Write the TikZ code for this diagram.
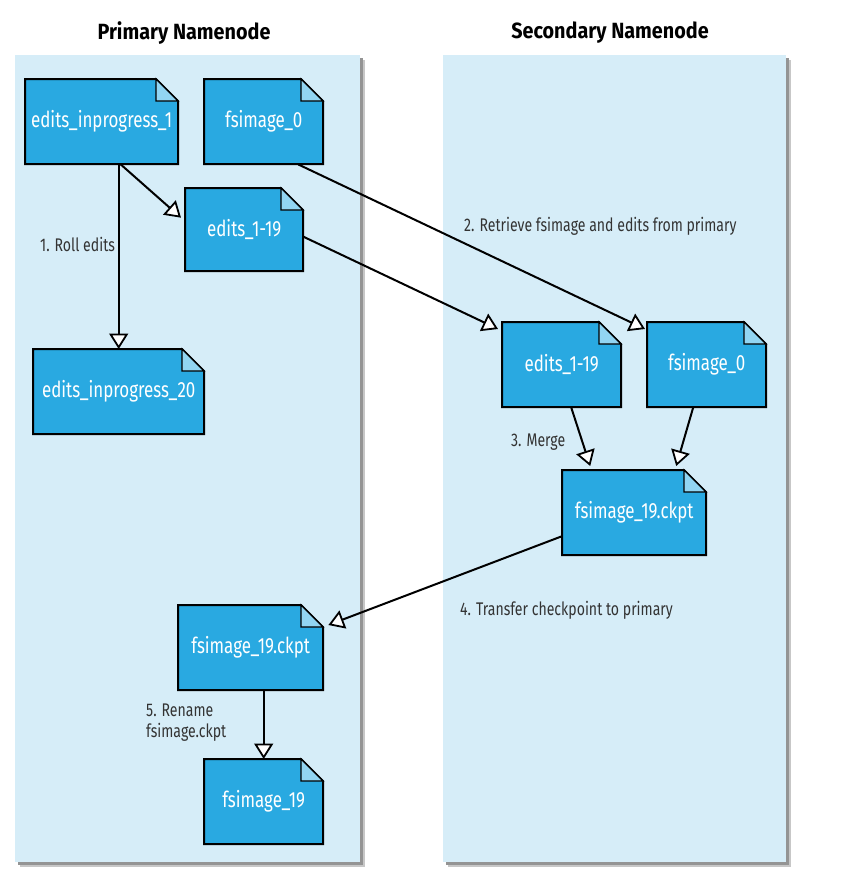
\documentclass[tikz,border=0pt]{standalone}
\usepackage{fontspec}
\setmainfont{Fira Sans}[FakeStretch=0.77]
\newfontfamily\titlefont{Fira Sans}[FakeStretch=0.9]
\usetikzlibrary{arrows.meta,calc}
\definecolor{docblue}{HTML}{29A9E1}
\definecolor{foldblue}{HTML}{92D5F2}
\definecolor{panelblue}{HTML}{D6EDF8}
\definecolor{labelgray}{HTML}{333333}
\tikzset{
  docline/.style={fill=docblue, draw=black, line width=2pt, line join=miter},
  foldline/.style={fill=foldblue, draw=black, line width=1.2pt},
  doctext/.style={text=white, font=\fontsize{22}{26}\selectfont, inner sep=0pt},
  lbl/.style={text=labelgray, font=\fontsize{18.3}{21}\selectfont, inner sep=0pt},
  flow/.style={draw=black, line width=2pt, -{Triangle[length=15.5pt, width=19pt, fill=white, line width=1.8pt]}},
  panelbox/.style={fill=panelblue},
  shadowsoft/.style={fill=black!22},
  shadowbox/.style={fill=black!42},
  titletext/.style={font=\titlefont\bfseries\fontsize{22}{26}\selectfont, text=black, inner sep=0pt}
}
\newcommand\mydoc[6]{%
  \filldraw[docline] (#2,#3) -- ++({#4-22},0) -- ++(22,22) -- ++(0,{#5-22}) -- ++(-#4,0) -- cycle;
  \filldraw[foldline] ({#2+#4-22},#3) -- ++(0,22) -- ++(22,0) -- cycle;
  \node[doctext, minimum width=#4pt, minimum height=#5pt, anchor=north west] (#1) at (#2,#3) {#6};
}
\begin{document}
\begin{tikzpicture}[x=1pt, y=-1pt]
\fill[white] (0,0) rectangle (861,886);
\useasboundingbox (0,0) rectangle (861,886);
% panels
\fill[shadowsoft] (20,60) rectangle (365,867);
\fill[shadowbox] (18,58) rectangle (363,865);
\fill[panelbox] (15,55) rectangle (360,862);
\fill[shadowsoft] (448,60) rectangle (791,867);
\fill[shadowbox] (446,58) rectangle (789,865);
\fill[panelbox] (443,55) rectangle (786,862);
\node[titletext] (t1) at (184,33) {Primary Namenode};
\node[titletext] (t2) at (610,33) {Secondary Namenode};
% documents
\mydoc{e1}{25}{79}{153}{85}{edits\_inprogress\_1}
\mydoc{f0}{204}{79}{119}{85}{fsimage\_0}
\mydoc{e119}{185}{188}{118}{83}{edits\_1-19}
\mydoc{e20}{33}{349}{171}{85}{edits\_inprogress\_20}
\mydoc{ckp}{178}{605}{145}{85}{fsimage\_19.ckpt}
\mydoc{f19}{204}{759}{119}{85}{fsimage\_19}
\mydoc{e119s}{502}{322}{119}{85}{edits\_1-19}
\mydoc{f0s}{647}{322}{119}{85}{fsimage\_0}
\mydoc{cks}{562}{470}{144}{85}{fsimage\_19.ckpt}
% connectors
\draw[flow] (e1.south -| e20.north) -- (e20.north);
\draw[flow] ($(e1.south -| e20.north)+(2,0)$) -- ($(e119.west)+(-4,-12)$);
\draw[flow] ($(f0.south)+(34.5,0)$) -- ($(f0s.north west)+(-2,7)$);
\draw[flow] ($(e119.east)+(0,7)$) -- ($(e119s.north west)+(-4,7)$);
\draw[flow] ($(e119s.south)+(9.5,0)$) -- ($(cks.north)+(-44,-4)$);
\draw[flow] ($(f0s.south)+(-13.5,0)$) -- ($(cks.north)+(42,-4)$);
\draw[flow] ($(cks.west)+(0,23.5)$) -- ($(ckp.north east)+(5,20)$);
\draw[flow] (ckp.south -| f19.north) -- (f19.north);
% labels
\node[lbl, anchor=west] (l1) at (40,244) {1. Roll edits};
\node[lbl, anchor=west] (l2) at (464,226) {2. Retrieve fsimage and edits from primary};
\node[lbl, anchor=west] (l3) at (511,442) {3. Merge};
\node[lbl, anchor=west] (l4) at (460,610) {4. Transfer checkpoint to primary};
\node[lbl, anchor=north west, align=left] (l5) at (146,704) {5. Rename\\fsimage.ckpt};
\end{tikzpicture}
\end{document}
